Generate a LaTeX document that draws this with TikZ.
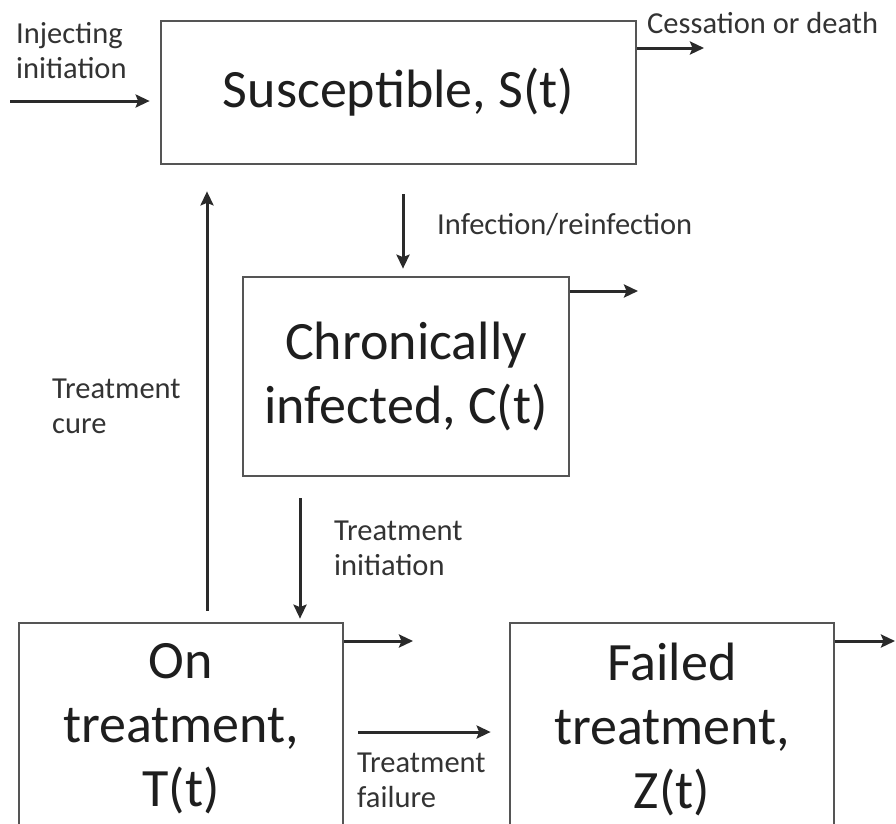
\documentclass[tikz,border=0pt]{standalone}
\usepackage{fontspec}
\setmainfont{Carlito}
\usetikzlibrary{arrows.meta}
\definecolor{boxline}{HTML}{555555}
\definecolor{arrline}{HTML}{2A2A2A}
\definecolor{txt}{HTML}{1E1E1E}
\definecolor{lbl}{HTML}{333333}
\begin{document}
\begin{tikzpicture}[x=1pt,y=-1pt,
  compbox/.style={draw=boxline, line width=2.7pt, align=center, text=txt,
    font=\fontsize{54}{64}\selectfont, inner sep=0pt},
  lbltext/.style={align=left, text=lbl, inner sep=0pt, anchor=west,
    font=\fontsize{30.5}{35}\selectfont},
  arr/.style={draw=arrline, line width=3pt,
    -{Stealth[length=14pt,width=13pt,inset=2.5pt]}}]
\useasboundingbox (0,0) rectangle (896,823);
\clip (0,0) rectangle (896,823);
\fill[white] (0,0) rectangle (896,823);

\node[compbox, minimum width=475pt, minimum height=143pt] (S) at (398.5,92.5) {Susceptible, S(t)};
\node[compbox, minimum width=326pt, minimum height=199pt] (C) at (406,376.5) {Chronically\\infected, C(t)};
\node[compbox, minimum width=324pt, minimum height=212pt] (T) at (181,729) {On\\treatment,\\T(t)};
\node[compbox, minimum width=324pt, minimum height=212pt] (Z) at (672,729) {Failed\\treatment,\\Z(t)};

\coordinate (inS) at (10,101);
\coordinate (outS) at (704,48);
\coordinate (outC) at (638,291);
\coordinate (outT) at (413,641);
\coordinate (outZ) at (896,641);

\draw[arr, shorten >=10pt] (inS) -- (S.west |- inS);
\draw[arr] (S.east |- outS) -- (outS);
\draw[arr, shorten <=29pt, shorten >=7pt] (S.south -| 403,0) -- (C.north -| 403,0);
\draw[arr] (C.east |- outC) -- (outC);
\draw[arr, shorten <=21pt, shorten >=3pt] (C.south -| 300,0) -- (T.north -| 300,0);
\draw[arr, shorten <=11pt, shorten >=26pt] (T.north -| 207,0) -- (S.south -| 207,0);
\draw[arr] (T.east |- outT) -- (outT);
\draw[arr, shorten <=14pt, shorten >=18pt] (T.east |- 0,732) -- (Z.west |- 0,732);
\draw[arr, shorten >=1pt] (Z.east |- outZ) -- (outZ);

\node[lbltext] (lInj) at (16,51) {Injecting\\initiation};
\node[lbltext] (lCes) at (647,23) {Cessation or death};
\node[lbltext] (lInf) at (437,225) {Infection/reinfection};
\node[lbltext] (lCure) at (52,406) {Treatment\\cure};
\node[lbltext] (lIni) at (334,548) {Treatment\\initiation};
\node[lbltext] (lFail) at (357,780) {Treatment\\failure};
\end{tikzpicture}
\end{document}
